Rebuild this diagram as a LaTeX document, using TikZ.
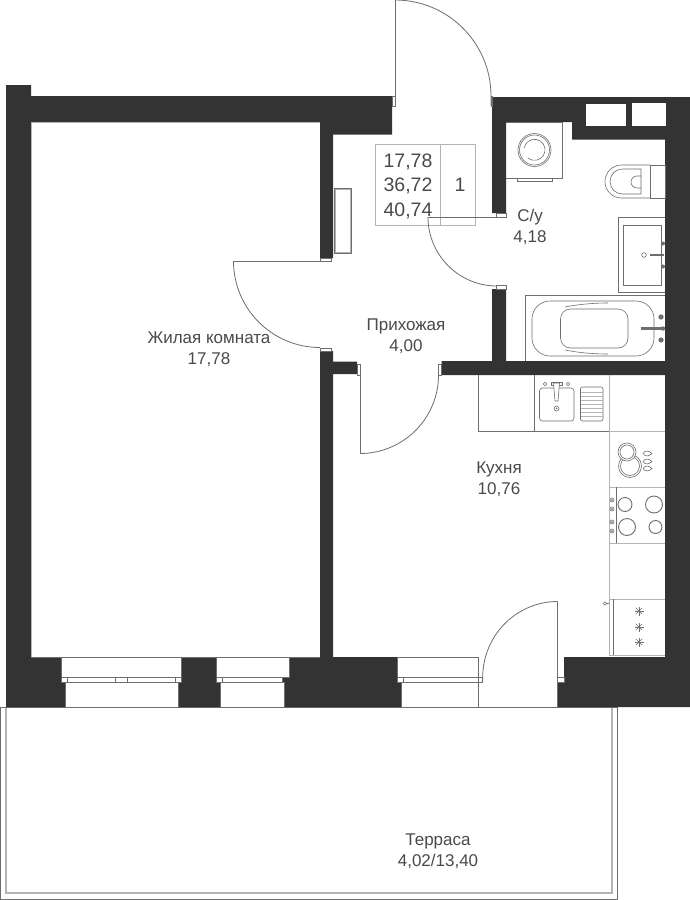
\documentclass[tikz,border=0pt]{standalone}
\usepackage{fontspec}
\setmainfont{Liberation Sans}
\definecolor{wallc}{HTML}{333333}
\definecolor{linec}{HTML}{6E6E6E}
\definecolor{lightc}{HTML}{B4B4B4}
\definecolor{textc}{HTML}{4A4A4A}
\tikzset{
 wall/.style={fill=wallc,draw=none},
 ln/.style={draw=linec,line width=0.8pt},
 fine/.style={draw=linec,line width=0.6pt},
 light/.style={draw=lightc,line width=1.4pt},
 hole/.style={fill=white,draw=linec,line width=0.7pt},
 shaft/.style={fill=white,draw=none},
 room/.style={font=\fontsize{17}{21}\selectfont,text=textc,align=center,inner sep=0pt},
 tbl/.style={font=\fontsize{19.5}{24.5}\selectfont,text=textc,align=center,inner sep=0pt},
}
\begin{document}
\begin{tikzpicture}[x=1pt,y=-1pt]
\useasboundingbox (0,0) rectangle (690,900);
\fill[white] (0,0) rectangle (690,900);
% terrace
\draw[ln] (0.5,707) -- (0.5,899.5) -- (617.5,899.5) -- (617.5,707);
\draw[light] (6,707) -- (6,893) -- (612,893) -- (612,707);
\draw[ln] (0,707) -- (618,707);
% walls
\path[wall] (6,85) -- (31,85) -- (31,96) -- (392,96) -- (392,134.5) -- (333,134.5) -- (333,258) -- (320,258) -- (320,122) -- (31,122) -- (31,657) -- (320,657) -- (320,351) -- (333,351) -- (333,361.5) -- (357,361.5) -- (357,374) -- (333,374) -- (333,657) -- (397,657) -- (397,677) -- (401,682) -- (401,707) -- (6,707) -- cycle;
\path[wall] (492,97) -- (690,97) -- (690,707) -- (558,707) -- (558,682) -- (564,677) -- (564,657) -- (665,657) -- (665,375) -- (441.5,375) -- (441.5,361) -- (492,361) -- (492,289) -- (506,289) -- (506,361) -- (665,361) -- (665,139.5) -- (572,139.5) -- (572,122) -- (506,122) -- (506,213) -- (492,213) -- cycle;
% shafts
\fill[shaft] (585.5,103.5) rectangle (625.5,126);
\fill[shaft] (632,103) rectangle (666,126);
% windows
\path[hole] (61,657.5) rectangle (181,677);
\path[hole] (216,657.5) rectangle (289,677);
\path[hole] (397.5,657.5) rectangle (478,677);
\path[hole] (61,677) rectangle (181,682);
\path[hole] (216,677) rectangle (282,682);
\path[hole] (397.5,677) rectangle (482.5,682);
\path[hole] (65,682) rectangle (178,707);
\path[hole] (220.5,682) rectangle (284.5,707);
\path[hole] (401,682) rectangle (478,707);
\draw[fine] (67.5,677) -- (67.5,682) (115.7,677) -- (115.7,682) (127.5,677) -- (127.5,682) (175.7,677) -- (175.7,682) (222.7,677) -- (222.7,682) (403,677) -- (403,682);
\draw[ln] (31,657.5) -- (320,657.5);
% room edge lines
\draw[lightc,line width=0.8pt] (31,122) -- (31,657) (31,122) -- (320,122);
\draw[ln] (478,657.5) -- (478,707) -- (558,707);
% entrance door
\path[hole] (392,96) rectangle (395,106);
\path[hole] (491,96) rectangle (492,106);
\draw[ln] (395,96) -- (395,0);
\draw[ln] (395,0) arc[start angle=-90,end angle=0,radius=96] -- (491,106);
% info table
\draw[lightc,line width=0.9pt] (375.5,144.5) rectangle (475,225) (440,144.5) -- (440,225);
\node[tbl] (t1) at (408,161.5) {17,78};
\node[tbl] (t2) at (408,185.5) {36,72};
\node[tbl] (t3) at (408,211) {40,74};
\node[tbl] (t4) at (460,185) {1};
% bath door
\draw[ln] (428,217) -- (497,217);
\path[hole] (496,213) rectangle (506,217);
\path[hole] (496,285) rectangle (506,289);
\draw[ln] (428,217) arc[start angle=180,end angle=90,radius=69];
% living door
\draw[ln] (233.5,261) -- (320,261);
\path[hole] (320,258) rectangle (331,261);
\path[hole] (320,348) rectangle (331,351);
\draw[ln] (233.5,261) arc[start angle=180,end angle=90,radius=86.5];
% hall door
\path[hole] (357,364) rectangle (360,375);
\path[hole] (438,364) rectangle (441.5,375);
\draw[ln] (360,364) -- (360,453.5);
\draw[ln] (360,453.5) arc[start angle=90,end angle=0,radius=78.5];
% kitchen door
\draw[ln] (557.7,707) -- (557.7,601.5);
\draw[ln] (557.7,601.5) arc[start angle=-90,end angle=-180,x radius=75,y radius=76] -- (482.7,682);
\path[hole] (557.7,677) rectangle (564,682);
% radiator
\draw[light] (335,189) rectangle (350.5,253);
\draw[fine] (334,188.5) rectangle (351,253.5);
% washing machine
\draw[fine] (506,122) -- (562.5,122) -- (562.5,178.5) -- (506,178.5);
\draw[fine] (517,178.5) -- (517,181) -- (552,181) -- (552,178.5);
\draw[fine] (534.5,150) circle[radius=16.5];
\draw[fine] (534.5,150) circle[radius=15];
\draw[fine] (524.2,148) arc[start angle=-170,end angle=130,radius=10.5];
% toilet
\draw[fine] (650.5,165) rectangle (665,198);
\draw[fine] (650,165) -- (621.5,165) arc[start angle=-90,end angle=-270,radius=16.5] -- (650,198);
\draw[fine] (641,169) -- (622.5,169) arc[start angle=-90,end angle=-270,radius=12.5] -- (641,194) -- cycle;
\draw[fine] (641,176) -- (637,176) arc[start angle=-90,end angle=-270,radius=6] -- (641,188);
% bathroom sink
\draw[fine] (665,217) -- (618.5,217) -- (618.5,292) -- (665,292);
\draw[fine] (623,225) rectangle (661,285);
\draw[fine] (644,255) circle[radius=2.3];
\draw[linec,line width=2pt] (650,255) -- (664,255);
\fill[linec] (663,243.5) circle[radius=2] (663,266.5) circle[radius=2];
% bath
\draw[fine] (665,295.5) -- (525,295.5) -- (525,361);
\draw[fine,rounded corners=18pt] (532,301) rectangle (654,356);
\draw[fine,rounded corners=10pt] (560.5,309) rectangle (628,348);
\draw[fine] (565,307) .. controls (580,304) and (595,303) .. (608,303);
\draw[fine] (565,350) .. controls (580,353) and (595,354) .. (608,354);
\draw[linec,line width=2.4pt] (641,328.5) -- (664,328.5);
\fill[linec] (661,317) circle[radius=2.6] (661,340) circle[radius=2.6] (663,328.5) circle[radius=2.2];
% kitchen counters
\draw[ln] (478.5,375) -- (478.5,431) -- (665,431);
\draw[ln] (534.5,375) -- (534.5,431);
\draw[lightc,line width=1pt] (609,375) -- (609,655) -- (665,655);
\draw[lightc,line width=1pt] (609,431) -- (665,431) (609,487) -- (665,487) (609,543) -- (665,543) (609,599) -- (665,599);
\draw[fine] (616.5,487) -- (616.5,543) (613.5,599) -- (613.5,655);
% kitchen sink
\draw[fine,rounded corners=3pt] (539.5,388) rectangle (574,421);
\draw[fine,rounded corners=2pt] (580.5,387) rectangle (603,421);
\foreach \yy in {392,396,400,404,408,412,416} \draw[lightc,line width=0.7pt] (581,\yy) -- (603,\yy);
\draw[fine,fill=white] (545,384) circle[radius=1.7] (568,384) circle[radius=1.7];
\draw[fine] (551,382) rectangle (562,385.5);
\draw[fine,fill=white] (553.5,383) -- (559.5,383) -- (558,401) -- (555,401) -- cycle;
\draw[fine] (556.5,408.5) circle[radius=2.5];
\fill[linec] (556.5,408.5) circle[radius=0.8];
% dishes
\draw[fine] (630,466) circle[radius=11.5] (630,466) circle[radius=9.5];
\draw[fine,fill=white] (627,452) circle[radius=9];
\draw[fine] (627,452) circle[radius=7];
\foreach \yy in {453.5,461.5,468.5}
 \draw[fine] (643,\yy) .. controls (645,\yy-3.5) and (649,\yy-3) .. (652,\yy) .. controls (649,\yy+3) and (645,\yy+3.5) .. (643,\yy);
% hob
\draw[fine,line width=0.9pt] (625,504.5) circle[radius=7] (654,504.5) circle[radius=8.5] (627,527) circle[radius=8.5] (655.5,527) circle[radius=6.5];
\foreach \yy in {500,509,522,531} {\draw[fine] (612,\yy) circle[radius=2]; \fill[linec] (612,\yy) circle[radius=1];}
% hood
\draw[fine] (605,603.5) circle[radius=1.8];
\draw[fine] (607,603.5) -- (609,603.5);
\foreach \yy in {611,627,642} {
 \foreach \aa in {0,45,...,315} \draw[linec,line width=0.5pt] (639,\yy) -- ++(\aa:4.5);
 \fill[linec] (639,\yy) circle[radius=1.2];
}
% labels
\node[room] (l1) at (209,349.5) {Жилая комната\\17,78};
\node[room] (l2) at (406,336.5) {Прихожая\\4,00};
\node[room] (l3) at (530,226.5) {С/у\\4,18};
\node[room] (l4) at (499,479) {Кухня\\10,76};
\node[room] (l5) at (438,851) {Терраса\\4,02/13,40};
\end{tikzpicture}
\end{document}
